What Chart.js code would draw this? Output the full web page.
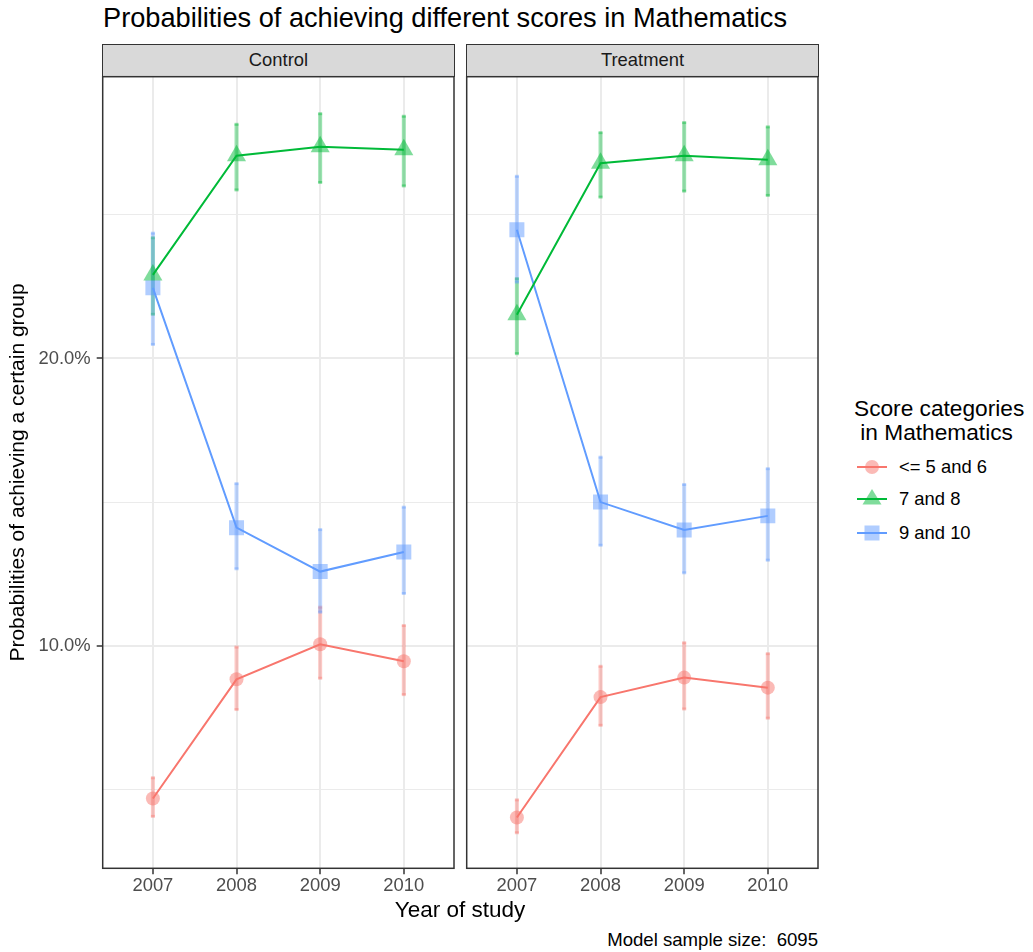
<!DOCTYPE html>
<html>
<head>
<meta charset="utf-8">
<script src="https://cdn.jsdelivr.net/npm/chart.js@4.4.0/dist/chart.umd.min.js"></script>
<style>
  html, body { margin: 0; padding: 0; background: #fff; }
  body { width: 1033px; height: 952px; position: relative; overflow: hidden;
         font-family: "Liberation Sans", Arial, Helvetica, sans-serif; }
  .abs { position: absolute; white-space: pre; }
  #title { left: 103px; top: 2px; font-size: 27.2px; line-height: 32px; color: #000; }
  .strip { position: absolute; top: 44px; height: 33px; background: #d9d9d9;
           border: 1.5px solid #333; box-sizing: border-box; font-size: 18.4px;
           color: #1a1a1a; text-align: center; line-height: 30px; }
  #xtitle { left: 0; width: 920px; text-align: center; top: 897px; font-size: 22.5px; line-height: 26px; color: #000; }
  #caption { right: 215px; top: 929px; font-size: 18.6px; line-height: 22px; color: #000; }
  #legTitle { left: 854px; top: 396px; font-size: 22.7px; line-height: 24px; color: #000; }
  .legRow { position: absolute; left: 855px; height: 30px; }
  .legRow svg { position: absolute; left: 0; top: 0; }
  .legRow span { position: absolute; left: 44px; top: 4px; font-size: 18.4px; line-height: 22px; color: #000; white-space: nowrap; }
  canvas { position: absolute; }
</style>
</head>
<body>
<div id="title" class="abs">Probabilities of achieving different scores in Mathematics</div>
<div class="strip" style="left:102px;width:353px;">Control</div>
<div class="strip" style="left:466px;width:353px;">Treatment</div>

<canvas id="panelControl" width="460" height="830" style="left:0;top:70px;width:460px;height:830px;"></canvas>
<canvas id="panelTreatment" width="364" height="830" style="left:460px;top:70px;width:364px;height:830px;"></canvas>

<div id="xtitle" class="abs">Year of study</div>
<div id="caption" class="abs">Model sample size:  6095</div>

<div id="legTitle" class="abs">Score categories
 in Mathematics</div>
<div id="legend"></div>

<script>
// Years of study on the x axis
const years = [2007, 2008, 2009, 2010];

// Y axis tick positions (percent); labels only on every 10%
const yTicks = [5, 10, 15, 20, 25];

// Category names and colours
const categories = ['<= 5 and 6', '7 and 8', '9 and 10'];
const colors = ['248,118,109', '0,186,56', '97,156,255'];
const shapes = ['circle', 'triangle', 'rect'];
const radii = [7, 11, 10.6];

// Control group: estimated probabilities (%) with lower / upper bounds
const ctrlLow = [4.68, 8.83, 10.05, 9.46];
const ctrlLowLo = [4.04, 7.76, 8.85, 8.28];
const ctrlLowHi = [5.42, 9.97, 11.36, 10.72];

const ctrlMid = [22.91, 27.06, 27.37, 27.27];
const ctrlMidLo = [21.52, 25.85, 26.11, 25.99];
const ctrlMidHi = [24.22, 28.17, 28.54, 28.45];

const ctrlTop = [22.46, 14.11, 12.58, 13.26];
const ctrlTopLo = [20.47, 12.66, 11.15, 11.80];
const ctrlTopHi = [24.38, 15.66, 14.06, 14.84];

// Treatment group
const trtLow = [4.02, 8.21, 8.89, 8.54];
const trtLowLo = [3.47, 7.21, 7.78, 7.46];
const trtLowHi = [4.65, 9.30, 10.12, 9.74];

const trtMid = [21.52, 26.80, 27.06, 26.92];
const trtMidLo = [20.15, 25.60, 25.81, 25.66];
const trtMidHi = [22.80, 27.88, 28.23, 28.08];

const trtTop = [24.48, 15.00, 14.03, 14.52];
const trtTopLo = [22.64, 13.48, 12.52, 12.96];
const trtTopHi = [26.36, 16.58, 15.63, 16.18];

const FONT = '"Liberation Sans", Arial, Helvetica, sans-serif';

// Vertical interval bars, drawn under the points and lines
const intervalPlugin = {
  id: 'intervals',
  beforeDatasetsDraw(chart) {
    const opts = chart.options.plugins.intervals;
    if (!opts) return;
    const { ctx, chartArea } = chart;
    const xs = chart.scales.x, ys = chart.scales.y;
    ctx.save();
    ctx.beginPath();
    ctx.rect(chartArea.left, chartArea.top, chartArea.right - chartArea.left, chartArea.bottom - chartArea.top);
    ctx.clip();
    opts.series.forEach(s => {
      ctx.fillStyle = 'rgba(' + s.color + ',0.4)';
      years.forEach((yr, i) => {
        const x = xs.getPixelForValue(yr);
        const y1 = ys.getPixelForValue(s.hi[i]);
        const y2 = ys.getPixelForValue(s.lo[i]);
        ctx.fillRect(x - 2, y1, 4, y2 - y1);
        ctx.fillRect(x - 2, y1 - 1, 4, 3);
        ctx.fillRect(x - 2, y2 - 2, 4, 3);
      });
    });
    ctx.restore();
  }
};

// Dark frame around each panel
const framePlugin = {
  id: 'frame',
  afterDraw(chart) {
    const { ctx, chartArea } = chart;
    ctx.save();
    ctx.strokeStyle = '#333333';
    ctx.lineWidth = 1.5;
    ctx.strokeRect(chartArea.left, chartArea.top, chartArea.right - chartArea.left, chartArea.bottom - chartArea.top);
    ctx.restore();
  }
};

function buildDatasets(groups) {
  const sets = [];
  groups.forEach((g, k) => {
    const pts = years.map((yr, i) => ({ x: yr, y: g.est[i] }));
    // markers
    sets.push({
      label: categories[k], data: pts, showLine: false, order: 2,
      pointStyle: shapes[k], pointRadius: radii[k], pointBorderWidth: 0,
      pointBackgroundColor: 'rgba(' + colors[k] + ',0.5)',
      pointBorderColor: 'rgba(0,0,0,0)'
    });
    // connecting line
    sets.push({
      label: categories[k] + ' line', data: pts, showLine: true, order: 1,
      pointRadius: 0, borderColor: 'rgb(' + colors[k] + ')', borderWidth: 2,
      tension: 0, fill: false
    });
  });
  return sets;
}

function makePanel(canvasId, groups, showY, padding) {
  return new Chart(document.getElementById(canvasId), {
    type: 'line',
    data: { datasets: buildDatasets(groups) },
    plugins: [intervalPlugin, framePlugin],
    options: {
      responsive: false,
      animation: false,
      events: [],
      layout: { padding: padding, autoPadding: false },
      plugins: {
        legend: { display: false },
        tooltip: { enabled: false },
        intervals: {
          series: groups.map((g, k) => ({ color: colors[k], lo: g.lo, hi: g.hi }))
        }
      },
      scales: {
        x: {
          type: 'linear', min: 2006.4, max: 2010.6,
          afterBuildTicks: s => { s.ticks = years.map(v => ({ value: v })); },
          afterFit: s => { s.height = 31.7; s.paddingLeft = 0; s.paddingRight = 0; },
          border: { display: false },
          grid: { color: '#ebebeb', lineWidth: 2, drawTicks: true, tickLength: 6, tickColor: '#333333', tickWidth: 1.5 },
          ticks: { callback: v => String(v), color: '#4d4d4d', font: { family: FONT, size: 18.4 },
                   padding: 1, maxRotation: 0, autoSkip: false }
        },
        y: {
          type: 'linear', min: 2.25, max: 29.81,
          afterBuildTicks: s => { s.ticks = yTicks.map(v => ({ value: v })); },
          afterFit: s => { s.width = showY ? 102.7 : 0; s.paddingTop = 0; s.paddingBottom = 0; },
          border: { display: false },
          grid: {
            color: '#ebebeb',
            lineWidth: c => (c.tick && c.tick.value % 10 === 0) ? 2 : 1,
            drawTicks: showY, tickLength: 6, tickWidth: 1.5,
            tickColor: c => (c.tick && c.tick.value % 10 === 0) ? '#333333' : 'rgba(0,0,0,0)'
          },
          ticks: {
            display: showY,
            callback: v => (v % 10 === 0) ? v.toFixed(1) + '%' : '',
            color: '#4d4d4d', font: { family: FONT, size: 18.4 }, padding: 6
          },
          title: {
            display: showY, text: 'Probabilities of achieving a certain group',
            color: '#000', font: { family: FONT, size: 21 }, padding: { top: 6, bottom: 0 }
          }
        }
      }
    }
  });
}

makePanel('panelControl', [
  { est: ctrlLow, lo: ctrlLowLo, hi: ctrlLowHi },
  { est: ctrlMid, lo: ctrlMidLo, hi: ctrlMidHi },
  { est: ctrlTop, lo: ctrlTopLo, hi: ctrlTopHi }
], true, { left: 0, right: 6, top: 6.7, bottom: 0 });

makePanel('panelTreatment', [
  { est: trtLow, lo: trtLowLo, hi: trtLowHi },
  { est: trtMid, lo: trtMidLo, hi: trtMidHi },
  { est: trtTop, lo: trtTopLo, hi: trtTopHi }
], false, { left: 6.7, right: 6, top: 6.7, bottom: 0 });

// Legend keys: line with the category marker
const legendTops = [452, 484, 518];
const legend = document.getElementById('legend');
categories.forEach((name, k) => {
  const row = document.createElement('div');
  row.className = 'legRow';
  row.style.top = legendTops[k] + 'px';
  const c = colors[k];
  let marker = '';
  if (shapes[k] === 'circle') {
    marker = '<circle cx="17" cy="15" r="7" fill="rgba(' + c + ',0.5)"/>';
  } else if (shapes[k] === 'triangle') {
    marker = '<polygon points="17,5 26.5,20.5 7.5,20.5" fill="rgba(' + c + ',0.5)"/>';
  } else {
    marker = '<rect x="9.5" y="7.5" width="15" height="15" fill="rgba(' + c + ',0.5)"/>';
  }
  row.innerHTML = '<svg width="34" height="30" viewBox="0 0 34 30">' + marker +
    '<line x1="2" y1="15" x2="32" y2="15" stroke="rgb(' + c + ')" stroke-width="2"/></svg>' +
    '<span>' + name.replace('<', '&lt;') + '</span>';
  legend.appendChild(row);
});
</script>
</body>
</html>
